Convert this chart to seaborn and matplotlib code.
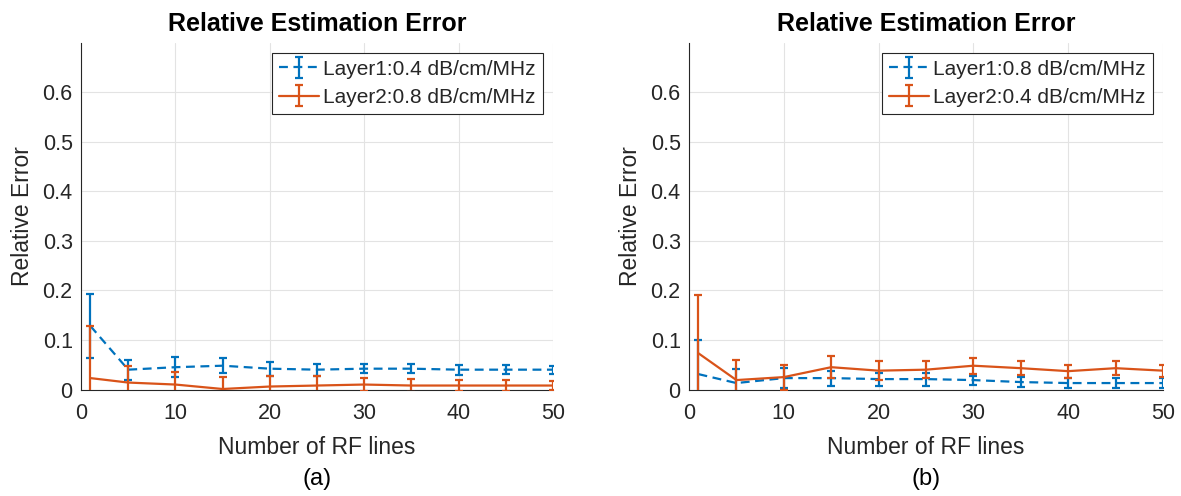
import numpy as np
import pandas as pd
import matplotlib
matplotlib.use("Agg")
import matplotlib.pyplot as plt
import seaborn as sns
from matplotlib.ticker import FuncFormatter

# ---- data ----
rf_lines = [1, 5, 10, 15, 20, 25, 30, 35, 40, 45, 50]

# panel (a)
a_layer1_mean = [0.128, 0.040, 0.045, 0.048, 0.042, 0.040, 0.042, 0.042, 0.040, 0.040, 0.040]
a_layer1_err = [0.065, 0.020, 0.020, 0.015, 0.014, 0.012, 0.009, 0.009, 0.010, 0.009, 0.008]
a_layer2_mean = [0.023, 0.014, 0.010, 0.001, 0.006, 0.008, 0.010, 0.008, 0.008, 0.008, 0.008]
a_layer2_err = [0.105, 0.034, 0.025, 0.024, 0.022, 0.019, 0.013, 0.013, 0.011, 0.012, 0.010]

# panel (b)
b_layer1_mean = [0.031, 0.013, 0.023, 0.023, 0.021, 0.021, 0.019, 0.015, 0.013, 0.013, 0.013]
b_layer1_err = [0.069, 0.028, 0.020, 0.015, 0.013, 0.013, 0.009, 0.010, 0.010, 0.010, 0.010]
b_layer2_mean = [0.073, 0.019, 0.025, 0.045, 0.038, 0.040, 0.048, 0.043, 0.037, 0.043, 0.038]
b_layer2_err = [0.117, 0.041, 0.025, 0.022, 0.019, 0.017, 0.016, 0.014, 0.013, 0.014, 0.012]

a_labels = ["Layer1:0.4 dB/cm/MHz", "Layer2:0.8 dB/cm/MHz"]
b_labels = ["Layer1:0.8 dB/cm/MHz", "Layer2:0.4 dB/cm/MHz"]

title = "Relative Estimation Error"
xlabel = "Number of RF lines"
ylabel = "Relative Error"
panel_tags = ["(a)", "(b)"]
xticks = [0, 10, 20, 30, 40, 50]
yticks = [0, 0.1, 0.2, 0.3, 0.4, 0.5, 0.6]

BLUE = "#0072BD"
ORANGE = "#D95319"

sns.set_style("whitegrid")
plt.rcParams["font.family"] = ["Liberation Sans", "DejaVu Sans"]

fig = plt.figure(figsize=(11.81, 4.96), dpi=100)
ax_a = fig.add_axes([81 / 1181, 1 - 389.5 / 496, 472 / 1181, 347 / 496])
ax_b = fig.add_axes([689 / 1181, 1 - 389.5 / 496, 474 / 1181, 347 / 496])


def draw_panel(ax, m1, e1, m2, e2, labels, tag):
    df = pd.DataFrame({
        "x": rf_lines * 2,
        "y": list(m1) + list(m2),
        "series": [labels[0]] * len(rf_lines) + [labels[1]] * len(rf_lines),
    })
    handles = []
    specs = [(m1, e1, BLUE, (0, (4, 2.5))), (m2, e2, ORANGE, "-")]
    for (m, e, c, ls), lab in zip(specs, labels):
        sub = df[df["series"] == lab]
        sns.lineplot(data=sub, x="x", y="y", ax=ax, color=c, linewidth=1.6,
                     linestyle=ls, legend=False, zorder=3)
        line = ax.get_lines()[-1]
        eb = ax.errorbar(rf_lines, m, yerr=e, fmt="none", ecolor=c,
                         elinewidth=1.6, capsize=3.0, capthick=1.6, zorder=3)
        handles.append((line, eb))

    ax.set_xlim(0, 50)
    ax.set_ylim(0, 0.7)
    ax.set_xticks(xticks)
    ax.set_yticks(yticks)
    ax.yaxis.set_major_formatter(FuncFormatter(lambda v, p: "%g" % round(v, 2)))
    ax.grid(True, color="#e3e3e3", linewidth=0.8)
    ax.set_axisbelow(True)
    for s in ["top", "right"]:
        ax.spines[s].set_visible(False)
    for s in ["left", "bottom"]:
        ax.spines[s].set_color("#262626")
        ax.spines[s].set_linewidth(0.8)
    ax.tick_params(axis="both", direction="in", length=4, width=0.8,
                   colors="#262626", labelsize=15.5, labelcolor="#262626")
    ax.tick_params(axis="x", pad=10)
    ax.tick_params(axis="y", pad=6)
    ax.set_title(title, fontsize=18, fontweight="bold", pad=8, color="black")
    ax.set_xlabel(xlabel, fontsize=16.5, color="#262626", labelpad=8)
    ax.set_ylabel(ylabel, fontsize=16.5, color="#262626", labelpad=6)
    ax.text(0.5, (389.5 - 479) / 347, tag, transform=ax.transAxes,
            ha="center", va="center", fontsize=17, color="black")
    leg = ax.legend(handles, labels, loc="upper right", fontsize=15,
                    frameon=True, fancybox=False, framealpha=1,
                    edgecolor="#262626", borderaxespad=0.5, handlelength=1.95,
                    handletextpad=0.2, labelspacing=0.45, borderpad=0.32)
    leg.get_frame().set_linewidth(0.8)


draw_panel(ax_a, a_layer1_mean, a_layer1_err, a_layer2_mean, a_layer2_err,
           a_labels, panel_tags[0])
draw_panel(ax_b, b_layer1_mean, b_layer1_err, b_layer2_mean, b_layer2_err,
           b_labels, panel_tags[1])

fig.savefig("out.png", dpi=100)
